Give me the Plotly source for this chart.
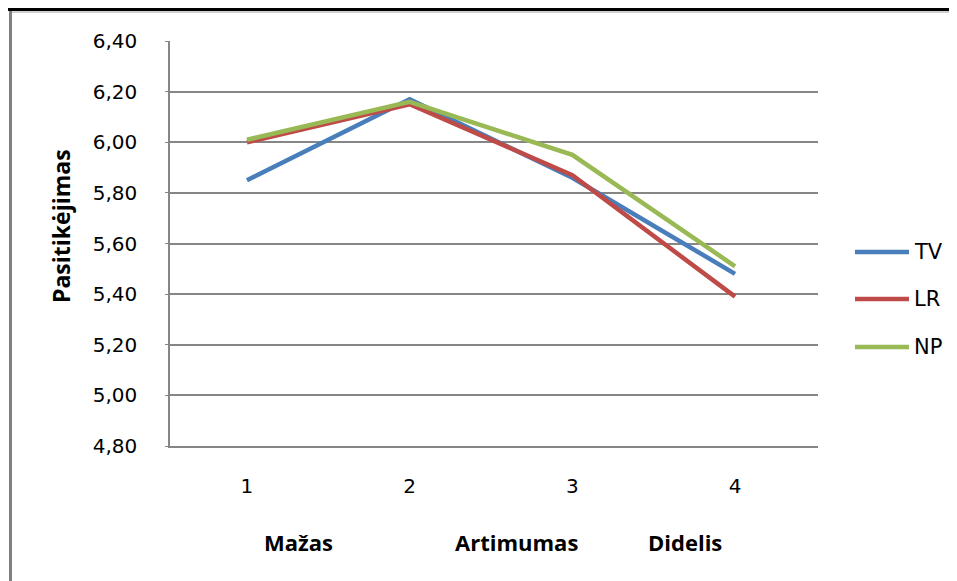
import plotly.graph_objects as go

categories = ["1", "2", "3", "4"]
tv = [5.85, 6.17, 5.86, 5.48]
lr = [6.00, 6.15, 5.87, 5.39]
np_ = [6.01, 6.16, 5.95, 5.51]
series_names = ["TV", "LR", "NP"]
colors = ["#4A7EBB", "#BE4B48", "#98B954"]
y_ticks = [4.80, 5.00, 5.20, 5.40, 5.60, 5.80, 6.00, 6.20, 6.40]
y_tick_labels = ["4,80", "5,00", "5,20", "5,40", "5,60", "5,80", "6,00", "6,20", "6,40"]
group_labels = ["Mažas", "Artimumas", "Didelis"]

OFF = 8  # page body margin
W, H = 957 - OFF, 581 - OFF
L, T = 170 - OFF, 41 - OFF
R = 957 - 818
B = 581 - 446
pw, ph = W - L - R, H - T - B

def px(x):
    return (x - OFF - L) / pw

def py(y):
    return (H - B - (y - OFF)) / ph

fig = go.Figure()
for name, vals, c in zip(series_names, [tv, lr, np_], colors):
    fig.add_trace(go.Scatter(x=categories, y=vals, mode="lines", name=name,
                             line=dict(color=c, width=4.5), showlegend=False))

font_main = "DejaVu Sans"
shapes = []
annotations = []
# manual legend
leg_y = [252, 299, 347]
for name, c, yy in zip(series_names, colors, leg_y):
    shapes.append(dict(type="line", xref="paper", yref="paper", x0=px(855), x1=px(909),
                       y0=py(yy), y1=py(yy), line=dict(color=c, width=4.5)))
    annotations.append(dict(text=name, xref="paper", yref="paper", x=px(912), y=py(yy),
                            xanchor="left", yanchor="middle", showarrow=False,
                            font=dict(family=font_main, size=21, color="#000")))
# group labels
for lab, xc in zip(group_labels, [298, 516, 685]):
    annotations.append(dict(text="<b>" + lab + "</b>", xref="paper", yref="paper", x=px(xc), y=py(542),
                            xanchor="center", yanchor="middle", showarrow=False,
                            font=dict(family="Open Sans", size=22, color="#000")))
# y title
annotations.append(dict(text="<b>Pasitikėjimas</b>", xref="paper", yref="paper", x=px(61), y=py(226),
                        textangle=-90, xanchor="center", yanchor="middle", showarrow=False,
                        font=dict(family="Open Sans", size=23, color="#000")))
# frame lines
shapes.append(dict(type="line", xref="paper", yref="paper", x0=px(0), x1=px(957), y0=py(9.5), y1=py(9.5),
                   line=dict(color="#000", width=3)))
shapes.append(dict(type="line", xref="paper", yref="paper", x0=px(10), x1=px(957), y0=py(12), y1=py(12),
                   line=dict(color="#a0a0a0", width=1)))
shapes.append(dict(type="line", xref="paper", yref="paper", x0=px(10.5), x1=px(10.5), y0=py(11), y1=py(590),
                   line=dict(color="#808080", width=3)))

fig.update_layout(
    width=W, height=H,
    margin=dict(l=L, r=R, t=T, b=B),
    paper_bgcolor="white", plot_bgcolor="white",
    showlegend=False,
    shapes=shapes, annotations=annotations,
    xaxis=dict(type="category", range=[-0.473, 3.51], showgrid=False, zeroline=False,
               showline=True, linecolor="#868686", linewidth=2,
               tickfont=dict(family=font_main, size=20, color="#000"),
               ticks="", ticklabelstandoff=21),
    yaxis=dict(range=[4.80, 6.40], tickvals=y_ticks, ticktext=y_tick_labels,
               showgrid=True, gridcolor="#868686", gridwidth=2, zeroline=False,
               showline=True, linecolor="#868686", linewidth=1.5,
               ticks="outside", ticklen=3, tickcolor="#868686",
               tickfont=dict(family=font_main, size=20, color="#000"),
               ticklabelstandoff=24),
)
fig.write_html("out.html")
